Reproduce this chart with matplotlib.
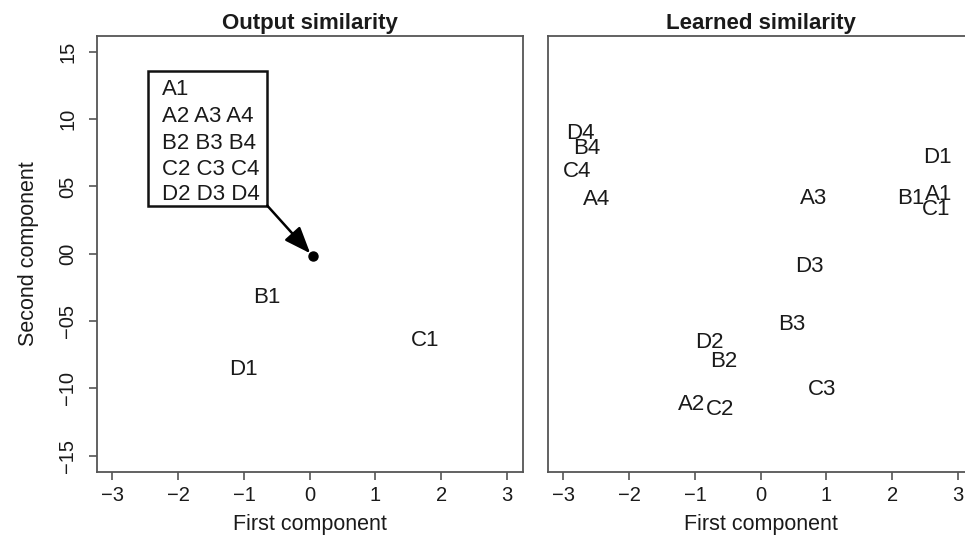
import matplotlib
matplotlib.use("Agg")
import matplotlib.pyplot as plt
from matplotlib.patches import Rectangle, FancyArrowPatch

plt.rcParams['font.family'] = ['Liberation Sans', 'DejaVu Sans']

# ---- data ----
left_labels = ["B1", "C1", "D1"]
left_x = [-0.65, 1.75, -1.01]
left_y = [-0.31, -0.63, -0.84]

cluster_point = (0.05, -0.02)
cluster_lines = ["A1", "A2 A3 A4", "B2 B3 B4", "C2 C3 C4", "D2 D3 D4"]

right_labels = ["D4", "B4", "C4", "A4", "A3", "D1", "B1", "A1", "C1",
                "D3", "B3", "D2", "B2", "C3", "A2", "C2"]
right_x = [-2.75, -2.64, -2.80, -2.49, 0.80, 2.69, 2.29, 2.70, 2.67,
           0.74, 0.47, -0.78, -0.56, 0.94, -1.05, -0.62]
right_y = [0.91, 0.80, 0.63, 0.42, 0.43, 0.73, 0.43, 0.46, 0.35,
           -0.08, -0.51, -0.64, -0.78, -0.99, -1.10, -1.14]

x_ticks = [-3, -2, -1, 0, 1, 2, 3]
x_ticklabels = ["\u22123", "\u22122", "\u22121", "0", "1", "2", "3"]
y_ticks = [1.5, 1.0, 0.5, 0.0, -0.5, -1.0, -1.5]
y_ticklabels = ["15", "10", "05", "00", "\u221205", "\u221210", "\u221215"]

titles = ["Output similarity", "Learned similarity"]
xlabel = "First component"
ylabel = "Second component"

# ---- figure ----
W, H = 965, 535
fig = plt.figure(figsize=(W / 100, H / 100), dpi=100)

def px_axes(x0, y0, x1, y1):
    return fig.add_axes([x0 / W, 1 - y1 / H, (x1 - x0) / W, (y1 - y0) / H])

axL = px_axes(96.7, 35.7, 522.7, 471.7)
axR = px_axes(547.7, 35.7, 973.7, 471.7)

txt_color = "#1a1a1a"
spine_color = "#555555"
fs_pts = 16
fs_tick = 14.5
fs_lab = 15.5

for ax, title in zip([axL, axR], titles):
    ax.set_xlim(-3.24, 3.24)
    ax.set_ylim(-1.62, 1.62)
    for s in ax.spines.values():
        s.set_color(spine_color)
        s.set_linewidth(1.3)
    ax.set_xticks(x_ticks)
    ax.set_xticklabels(x_ticklabels, fontsize=fs_tick, color=txt_color)
    ax.tick_params(axis='x', direction='out', length=6, width=1.2,
                   color=spine_color, pad=4)
    ax.set_xlabel(xlabel, fontsize=fs_lab, color=txt_color, labelpad=7)
    ax.set_title(title, fontsize=16, fontweight='bold', color=txt_color, pad=5)

axL.set_yticks(y_ticks)
axL.set_yticklabels(y_ticklabels, fontsize=fs_tick, color=txt_color,
                    rotation=90, va='center')
axL.tick_params(axis='y', direction='out', length=6, width=1.2,
                color=spine_color, pad=8)
axL.set_ylabel(ylabel, fontsize=fs_lab, color=txt_color, labelpad=14)
axR.set_yticks([])

# left panel
for lab, x, y in zip(left_labels, left_x, left_y):
    axL.text(x, y, lab, fontsize=fs_pts, ha='center', va='center_baseline',
             color=txt_color)
axL.plot([cluster_point[0]], [cluster_point[1]], 'o', color='black',
         markersize=6.5)

box_x0, box_x1 = -2.46, -0.645
box_y0, box_y1 = 0.357, 1.36
axL.add_patch(Rectangle((box_x0, box_y0), box_x1 - box_x0, box_y1 - box_y0,
                        fill=False, edgecolor='#111111', linewidth=1.8))
line_y = [1.236, 1.036, 0.84, 0.647, 0.456]
for line, yy in zip(cluster_lines, line_y):
    axL.text(-2.24, yy, line, fontsize=fs_pts, ha='left',
             va='center_baseline', color=txt_color)
arrow = FancyArrowPatch((box_x1, box_y0), cluster_point,
                        arrowstyle='-|>,head_length=0.9,head_width=0.35',
                        mutation_scale=18, color='black', linewidth=1.8,
                        shrinkA=0, shrinkB=3)
axL.add_patch(arrow)

# right panel
for lab, x, y in zip(right_labels, right_x, right_y):
    axR.text(x, y, lab, fontsize=fs_pts, ha='center', va='center_baseline',
             color=txt_color)

fig.savefig("out.png", dpi=100)
